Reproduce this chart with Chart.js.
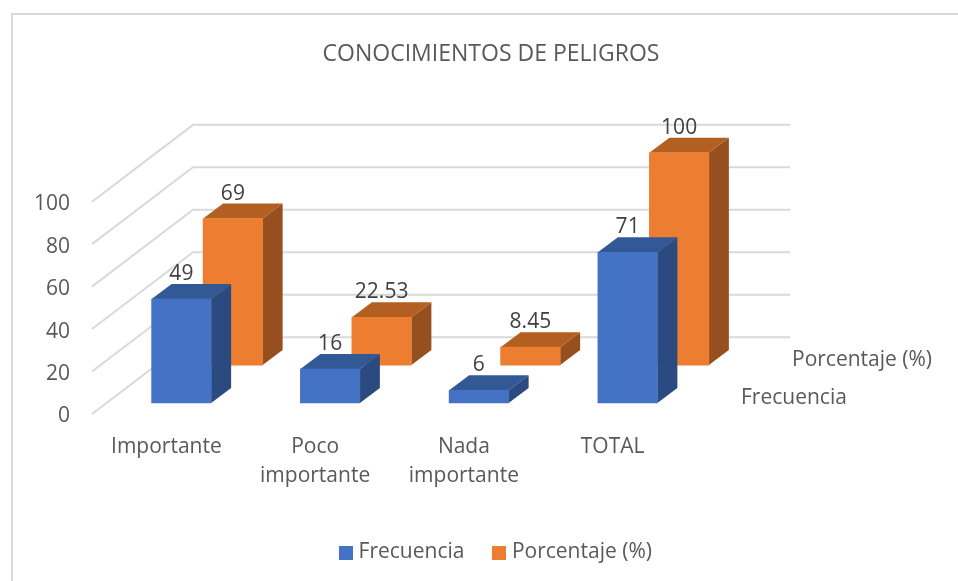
<!DOCTYPE html>
<html><head><meta charset="utf-8">
<style>html,body{margin:0;padding:0;background:#fff}#w{position:relative;width:958px;height:581px}</style>
<script src="https://cdn.jsdelivr.net/npm/chart.js@4"></script>
</head><body><div id="w"><canvas id="c" width="958" height="581"></canvas></div>
<script>
const categories = [['Importante'], ['Poco', 'importante'], ['Nada', 'importante'], ['TOTAL']];
const frecuencia = [49, 16, 6, 71];
const porcentaje = [69, 22.53, 8.45, 100];
const porcentajeLabels = ['69', '22.53', '8.45', '100'];
const frecuenciaLabels = ['49', '16', '6', '71'];
const yTicks = [0, 20, 40, 60, 80, 100];

const FONT = '"Open Sans"';
const TEXT = '#404040', TEXT2 = '#595959', GRID = '#d9d9d9';
// 3-D projection constants (pixels)
const PX = 42.55 / 20, H = 289, W = 595, BAND = W / 4;
const DX = 101, DY = 77;          // full floor depth
const BAR_DX = 20, BAR_DY = 15;   // depth of one bar

function sc(offsetPx, extra) {
  return Object.assign({ type: 'linear', display: false, min: -offsetPx / PX, max: (H - offsetPx) / PX }, extra || {});
}
function xsc(shift) {
  return { type: 'linear', display: false, min: -0.5 - shift / BAND, max: 3.5 - shift / BAND, offset: false };
}
function icon(c) {
  const k = document.createElement('canvas'); k.width = 14; k.height = 14;
  const g = k.getContext('2d'); g.fillStyle = c; g.fillRect(0, 0, 14, 14); return k;
}
const pts = a => a.map((v, i) => ({ x: i, y: v }));

const depth3d = {
  id: 'depth3d',
  beforeDatasetsDraw(chart) {
    const { ctx, scales } = chart;
    const y0 = scales.y, yb = scales.yBack;
    ctx.save();
    ctx.strokeStyle = GRID; ctx.lineWidth = 2;
    const L = chart.chartArea.left;
    yTicks.forEach(t => {
      const f = y0.getPixelForValue(t), b = yb.getPixelForValue(t);
      ctx.beginPath(); ctx.moveTo(L, f); ctx.lineTo(L + DX, b); ctx.lineTo(L + DX + 597, b); ctx.stroke();
    });
    ctx.restore();
  },
  beforeDatasetDraw(chart, args) {
    const { ctx } = chart;
    const ds = chart.data.datasets[args.index];
    ctx.save();
    args.meta.data.forEach(el => {
      const l = el.x - el.width / 2, r = el.x + el.width / 2, t = el.y, b = el.base;
      ctx.fillStyle = ds.sideColor;
      ctx.beginPath(); ctx.moveTo(r, t); ctx.lineTo(r + BAR_DX, t - BAR_DY); ctx.lineTo(r + BAR_DX, b - BAR_DY); ctx.lineTo(r, b); ctx.closePath(); ctx.fill();
      ctx.fillStyle = ds.topColor;
      ctx.beginPath(); ctx.moveTo(l, t); ctx.lineTo(l + BAR_DX, t - BAR_DY); ctx.lineTo(r + BAR_DX, t - BAR_DY); ctx.lineTo(r, t); ctx.closePath(); ctx.fill();
    });
    ctx.restore();
  },
  afterDraw(chart) {
    const { ctx } = chart;
    ctx.save();
    ctx.textAlign = 'center'; ctx.textBaseline = 'middle';
    ctx.font = '21px ' + FONT; ctx.fillStyle = TEXT;
    chart.data.datasets.forEach((ds, i) => {
      chart.getDatasetMeta(i).data.forEach((el, j) => {
        ctx.fillText(ds.valueLabels[j], el.x, el.y - 25);
      });
    });
    ctx.fillStyle = TEXT2; ctx.textAlign = 'left';
    ctx.fillText(chart.data.datasets[1].label, 792, 360.5);
    ctx.fillText(chart.data.datasets[0].label, 741, 398.5);
    ctx.strokeStyle = GRID; ctx.lineWidth = 2;
    ctx.beginPath(); ctx.moveTo(12, 581); ctx.lineTo(12, 14); ctx.lineTo(958, 14); ctx.stroke();
    ctx.restore();
  },
  afterLayout(chart) {
    const lg = chart.legend; lg.left += 7; lg.right += 7; lg.top -= 8; lg.bottom -= 8;
  }
};

new Chart(document.getElementById('c'), {
  type: 'bar',
  plugins: [depth3d],
  data: {
    labels: categories,
    datasets: [
      { label: 'Frecuencia', data: pts(frecuencia), valueLabels: frecuenciaLabels, xAxisID: 'xF', yAxisID: 'yF',
        backgroundColor: '#4472c4', sideColor: '#2a4a80', topColor: '#335896', pointStyle: icon('#4472c4'),
        barThickness: 59.5, grouped: false, clip: false },
      { label: 'Porcentaje (%)', data: pts(porcentaje), valueLabels: porcentajeLabels, xAxisID: 'xP', yAxisID: 'yP',
        backgroundColor: '#ed7d31', sideColor: '#964f1e', topColor: '#b35f22', pointStyle: icon('#ed7d31'),
        barThickness: 59.5, grouped: false, clip: false }
    ]
  },
  options: {
    responsive: false, animation: false,
    layout: { padding: { left: 24, right: 0, top: 0, bottom: 0 } },
    scales: {
      x: {
        type: 'category', position: 'bottom', offset: true,
        grid: { display: false }, border: { display: false },
        ticks: { color: TEXT2, font: { family: FONT, size: 21, lineHeight: 1.38 }, maxRotation: 0, autoSkip: false, padding: 11 },
        afterFit(s) { s.height = 103; }
      },
      xF: xsc(15), xP: xsc(66.5),
      y: sc(0, { display: true, position: 'left', min: 0, grid: { display: false }, border: { display: false },
        ticks: { color: TEXT2, font: { family: FONT, size: 21 }, padding: 14, stepSize: 20, labelOffset: 2.5,
          callback: v => yTicks.includes(v) ? v : '' },
        afterFit(s) { s.width = 68; } }),
      yF: sc(11), yP: sc(49),
      yBack: sc(77, { display: true, position: 'right', grid: { display: false }, border: { display: false },
        ticks: { display: false }, afterFit(s) { s.width = 271; } })
    },
    plugins: {
      tooltip: { enabled: false },
      title: { display: true, text: 'CONOCIMIENTOS DE PELIGROS', color: TEXT2,
        font: { family: FONT, size: 23, weight: 'normal' }, padding: { top: 41, bottom: 57 } },
      legend: { position: 'bottom',
        labels: { usePointStyle: true, pointStyleWidth: 4, boxHeight: 14, color: TEXT2, padding: 33,
          font: { family: FONT, size: 21 } } }
    }
  }
});
</script></body></html>
